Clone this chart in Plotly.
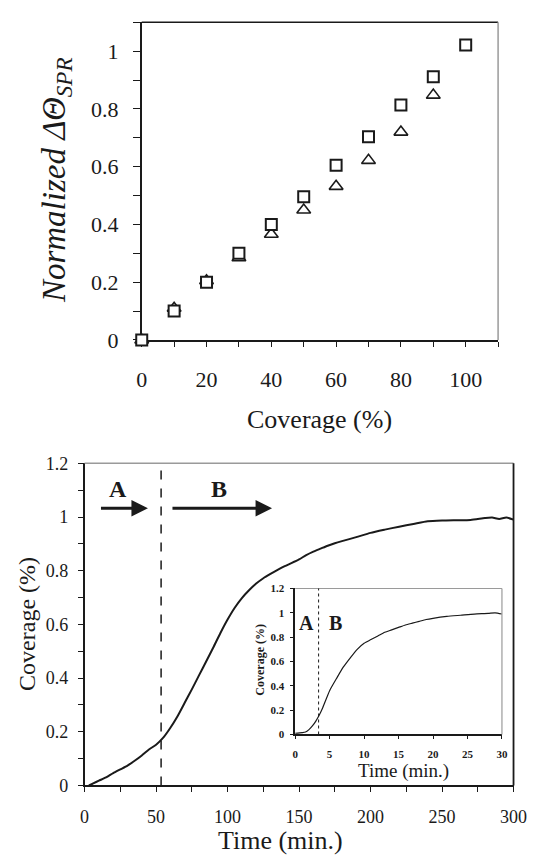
import plotly.graph_objects as go

# ---------------- data ----------------
coverage_pct = [0, 10, 20, 30, 40, 50, 60, 70, 80, 90, 100]
norm_square = [0.0, 0.10, 0.20, 0.30, 0.40, 0.496, 0.605, 0.704, 0.814, 0.912, 1.022]
tri_x = [0, 10, 20, 30, 40, 50, 60, 70, 80, 90]
norm_triangle = [0.0, 0.11, 0.205, 0.285, 0.366, 0.45, 0.532, 0.622, 0.72, 0.848]

time_min = [3, 6, 10, 15, 20, 25, 30, 35, 40, 45, 50, 55, 60, 65, 70, 75, 80, 85, 90, 95,
            100, 105, 110, 115, 120, 125, 130, 135, 140, 145, 150, 155, 160, 165, 170,
            175, 180, 190, 200, 210, 220, 230, 240, 250, 260, 270, 280, 285, 290, 295, 300]
cov_main = [0.0, 0.008, 0.018, 0.03, 0.046, 0.06, 0.074, 0.092, 0.112, 0.134, 0.152,
            0.178, 0.215, 0.258, 0.308, 0.358, 0.41, 0.462, 0.514, 0.568, 0.618, 0.662,
            0.698, 0.727, 0.752, 0.772, 0.788, 0.803, 0.817, 0.829, 0.842, 0.858, 0.871,
            0.882, 0.893, 0.902, 0.91, 0.925, 0.941, 0.953, 0.964, 0.974, 0.984, 0.987,
            0.988, 0.989, 0.996, 0.998, 0.993, 0.998, 0.99]

time_inset = [0, 1, 1.5, 2, 2.5, 3, 3.5, 4, 5, 6, 7, 8, 9, 10, 11, 12, 13, 14, 15, 16,
              17, 18, 19, 20, 22, 24, 26, 28, 29, 30]
cov_inset = [0.01, 0.015, 0.02, 0.04, 0.07, 0.11, 0.16, 0.22, 0.36, 0.46, 0.555, 0.63,
             0.70, 0.75, 0.78, 0.81, 0.84, 0.86, 0.88, 0.90, 0.915, 0.93, 0.945, 0.955,
             0.97, 0.98, 0.99, 0.995, 1.0, 0.99]

main_boundary = 53.5
inset_boundary = 3.4

W, H = 542, 864
SERIF = "Liberation Serif, Times New Roman, Times, serif"
DARK = "#1a1a1a"
GRAY = "#9a9a9a"

fig = go.Figure()

# top chart: triangles first, squares on top
fig.add_trace(go.Scatter(x=tri_x, y=norm_triangle, mode="markers", xaxis="x", yaxis="y",
                         marker=dict(symbol="triangle-up", size=12, color="white",
                                     line=dict(color=DARK, width=1.6)),
                         cliponaxis=False, showlegend=False))
fig.add_trace(go.Scatter(x=coverage_pct, y=norm_square, mode="markers", xaxis="x", yaxis="y",
                         marker=dict(symbol="square", size=11, color="white",
                                     line=dict(color=DARK, width=2)),
                         cliponaxis=False, showlegend=False))

# bottom chart
fig.add_trace(go.Scatter(x=time_min, y=cov_main, mode="lines", xaxis="x2", yaxis="y2",
                         line=dict(color=DARK, width=2, shape="spline", smoothing=0.6),
                         showlegend=False))
# inset
fig.add_trace(go.Scatter(x=time_inset, y=cov_inset, mode="lines", xaxis="x3", yaxis="y3",
                         line=dict(color=DARK, width=1.2, shape="spline", smoothing=0.6),
                         showlegend=False))


def ax(domain, rng, tickvals, anchor, size, minor=None, ticklen=5, standoff=None, weight="normal"):
    d = dict(domain=domain, range=rng, tickvals=tickvals, anchor=anchor,
             showline=True, linecolor=DARK, linewidth=1.5, ticks="outside",
             ticklen=ticklen, tickcolor=DARK, tickwidth=1.2, showgrid=False,
             zeroline=False, fixedrange=True, layer="below traces",
             tickfont=dict(family=SERIF, size=size, color=DARK, weight=weight))
    if minor is not None:
        d["minor"] = dict(dtick=minor, ticks="outside", ticklen=ticklen,
                          tickcolor=DARK, tickwidth=1.2, showgrid=False)
    if standoff is not None:
        d["ticklabelstandoff"] = standoff
    return d


def px_x(p):
    return p / W


def px_y(p):
    return 1 - p / H


fig.update_layout(
    width=W, height=H, margin=dict(l=0, r=0, t=0, b=0),
    paper_bgcolor="white", plot_bgcolor="rgba(0,0,0,0)",
    xaxis=ax([px_x(141.7), px_x(511)], [0, 110], [0, 20, 40, 60, 80, 100], "y", 22,
             minor=10, ticklen=5, standoff=14),
    yaxis=ax([px_y(339), px_y(12.7)], [0, 1.1], [0, 0.2, 0.4, 0.6, 0.8, 1.0], "x", 22,
             minor=0.1, ticklen=7, standoff=10),
    xaxis2=ax([px_x(82.5), px_x(527)], [0, 300], [0, 50, 100, 150, 200, 250, 300], "y2", 18,
              minor=25, ticklen=5, standoff=9),
    yaxis2=ax([px_y(796.7), px_y(465.7)], [0, 1.2], [0, 0.2, 0.4, 0.6, 0.8, 1.0, 1.2], "x2", 18,
              minor=0.1, ticklen=5, standoff=6),
    xaxis3=ax([px_x(300.7), px_x(515)], [0, 30], [0, 5, 10, 15, 20, 25, 30], "y3", 11,
              ticklen=3, standoff=6, weight="bold"),
    yaxis3=ax([px_y(744.3), px_y(594.3)], [0, 1.2], [0, 0.2, 0.4, 0.6, 0.8, 1.0, 1.2], "x3", 11,
              ticklen=3, standoff=4, weight="bold"),
)

shapes = []
# mirror lines
shapes.append(dict(type="line", xref="x domain", yref="y domain", x0=0, x1=1, y0=1, y1=1,
                   line=dict(color=DARK, width=1.5)))
shapes.append(dict(type="line", xref="x domain", yref="y domain", x0=1, x1=1, y0=0, y1=1,
                   line=dict(color=GRAY, width=1.5)))
shapes.append(dict(type="line", xref="x2 domain", yref="y2 domain", x0=0, x1=1, y0=1, y1=1,
                   line=dict(color=GRAY, width=1.5)))
shapes.append(dict(type="line", xref="x2 domain", yref="y2 domain", x0=1, x1=1, y0=0, y1=1,
                   line=dict(color=DARK, width=1.8)))
shapes.append(dict(type="line", xref="x3 domain", yref="y3 domain", x0=0, x1=1, y0=1, y1=1,
                   line=dict(color=GRAY, width=1.2)))
shapes.append(dict(type="line", xref="x3 domain", yref="y3 domain", x0=1, x1=1, y0=0, y1=1,
                   line=dict(color=GRAY, width=1.2)))
# boundary dashed lines
shapes.append(dict(type="line", xref="x2", yref="y2 domain", x0=main_boundary, x1=main_boundary,
                   y0=0, y1=1, line=dict(color=DARK, width=1.5, dash="dash")))
shapes.append(dict(type="line", xref="x3", yref="y3 domain", x0=inset_boundary, x1=inset_boundary,
                   y0=0, y1=1, line=dict(color=DARK, width=1, dash="dot")))
fig.update_layout(shapes=shapes)

ann = []
# top chart titles
ann.append(dict(text="<i>Normalized ΔΘ<sub>SPR</sub></i>", xref="paper", yref="paper",
                x=px_x(53.6), y=px_y(175), textangle=-90, showarrow=False,
                xanchor="center", yanchor="middle",
                font=dict(family=SERIF, size=33, color=DARK)))
ann.append(dict(text="Coverage (%)", xref="paper", yref="paper", x=px_x(326), y=px_y(421),
                showarrow=False, xanchor="center", yanchor="middle",
                font=dict(family=SERIF, size=26, color=DARK)))
# bottom chart titles
ann.append(dict(text="Coverage (%)", xref="paper", yref="paper", x=px_x(22.5), y=px_y(631),
                textangle=-90, showarrow=False, xanchor="center", yanchor="middle",
                font=dict(family=SERIF, size=24, color=DARK)))
ann.append(dict(text="Time (min.)", xref="paper", yref="paper", x=px_x(285), y=px_y(853),
                showarrow=False, xanchor="center", yanchor="middle",
                font=dict(family=SERIF, size=26, color=DARK)))
# A / B labels and arrows, main
ann.append(dict(text="<b>A</b>", xref="x2", yref="y2", x=23.7, y=1.106, showarrow=False,
                font=dict(family=SERIF, size=24, color=DARK)))
ann.append(dict(text="<b>B</b>", xref="x2", yref="y2", x=93.8, y=1.106, showarrow=False,
                font=dict(family=SERIF, size=24, color=DARK)))
ann.append(dict(text="", xref="x2", yref="y2", x=44.3, y=1.033, ax=10.4, ay=1.033,
                axref="x2", ayref="y2", showarrow=True, arrowhead=2, arrowsize=1.1,
                arrowwidth=3, arrowcolor=DARK))
ann.append(dict(text="", xref="x2", yref="y2", x=131.1, y=1.033, ax=60.4, ay=1.033,
                axref="x2", ayref="y2", showarrow=True, arrowhead=2, arrowsize=1.1,
                arrowwidth=3, arrowcolor=DARK))
# inset titles and labels
ann.append(dict(text="Coverage (%)", xref="paper", yref="paper", x=px_x(264.7), y=px_y(667),
                textangle=-90, showarrow=False, xanchor="center", yanchor="middle",
                font=dict(family=SERIF, size=12, color=DARK, weight="bold")))
ann.append(dict(text="Time (min.)", xref="paper", yref="paper", x=px_x(413), y=px_y(782),
                showarrow=False, xanchor="center", yanchor="middle",
                font=dict(family=SERIF, size=19, color=DARK)))
ann.append(dict(text="<b>A</b>", xref="x3", yref="y3", x=1.62, y=0.914, showarrow=False,
                font=dict(family=SERIF, size=20, color=DARK)))
ann.append(dict(text="<b>B</b>", xref="x3", yref="y3", x=5.88, y=0.914, showarrow=False,
                font=dict(family=SERIF, size=20, color=DARK)))
fig.update_layout(annotations=ann)

fig.write_html("out.html", config={"displayModeBar": False},
               post_script="document.body.style.margin='0';document.body.style.overflow='hidden';")
